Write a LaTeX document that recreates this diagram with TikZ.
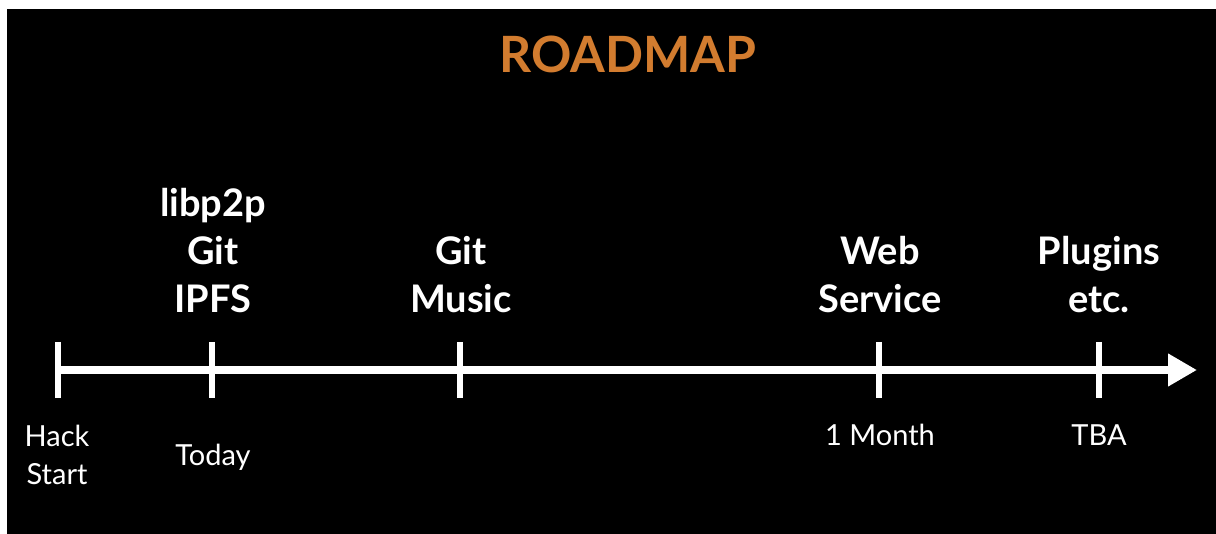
\documentclass[tikz,border=0pt]{standalone}
\usepackage{fontspec}
\setmainfont{Lato}
\usetikzlibrary{arrows.meta}
\definecolor{roadorange}{HTML}{D27C2F}
\tikzset{
  axisline/.style={draw=white, line width=8pt, -{Triangle[length=29pt,width=31pt]}},
  tick/.style={draw=white, line width=6pt},
  toplabel/.style={text=white, anchor=base, align=center, inner sep=0pt, font=\fontsize{38}{48}\selectfont\bfseries},
  botlabel/.style={text=white, anchor=base, align=center, inner sep=0pt, font=\fontsize{29}{38}\selectfont},
}
\begin{document}
\begin{tikzpicture}[x=1pt,y=-1pt]
\useasboundingbox (0,0) rectangle (1216,534);
\fill[white] (0,0) rectangle (1216,534);
\fill[black] (7,9) rectangle (1216,534);
\node[text=roadorange, anchor=base, inner sep=0pt, font=\fontsize{50}{60}\selectfont\bfseries] (title) at (628,73) {ROADMAP};
\coordinate (start) at (58,370);
\coordinate (end) at (1197,370);
\draw[axisline] (start) -- (end);
\foreach \n/\x in {t0/58,t1/212,t2/460,t3/879,t4/1099}{
  \coordinate (\n top) at (\x,342);
  \coordinate (\n bot) at (\x,398);
  \draw[tick] (\n top) -- (\n bot);
}
\node[toplabel] (l1) at (213,313) {libp2p\\Git\\IPFS};
\node[toplabel] (l2) at (461,313) {Git\\Music};
\node[toplabel] (l3) at (880,313) {Web\\Service};
\node[toplabel] (l4) at (1099,313) {Plugins\\etc.};
\node[botlabel] (b0) at (57,484) {Hack\\Start};
\node[botlabel] (b1) at (213,466) {Today};
\node[botlabel] (b3) at (880,446) {1 Month};
\node[botlabel] (b4) at (1099,446) {TBA};
\end{tikzpicture}
\end{document}
